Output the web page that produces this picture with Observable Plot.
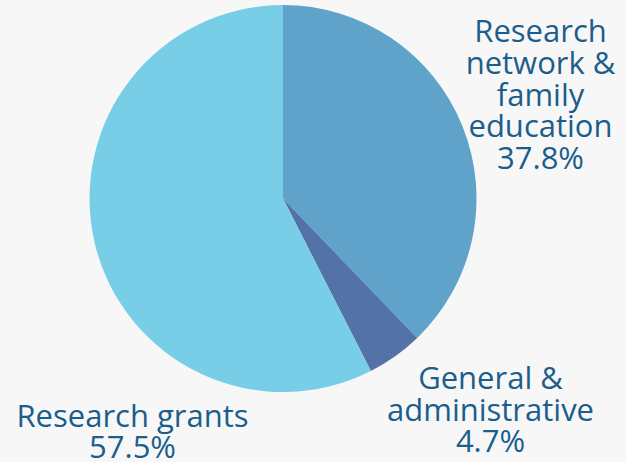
<!DOCTYPE html>
<html>
<head>
<meta charset="utf-8">
<script src="https://cdn.jsdelivr.net/npm/d3@7"></script>
<script src="https://cdn.jsdelivr.net/npm/@observablehq/plot@0.6"></script>
<style>
  html, body { margin: 0; padding: 0; background: #f7f7f7; }
  #chart { width: 626px; height: 462px; overflow: hidden; }
</style>
</head>
<body>
<div id="chart"></div>
<script>
// Data
const categories = ["Research network & family education", "General & administrative", "Research grants"];
const shares = [37.8, 4.7, 57.5];
const labelLines = [
  ["Research", "network &", "family", "education"],
  ["General &", "administrative"],
  ["Research grants"]
];

// Styling / layout (not data)
const colors = ["#5fa3cb", "#5373a8", "#79cee7"];
const W = 626, H = 462;
const center = [283, 198.5];
const radius = 193.5;
const fontSize = 31;
const lineHeightPx = 31.6;
const labelPos = [[540, 95], [490, 410], [132, 432]];

const rows = categories.map((c, i) => ({category: c, share: shares[i]}));
const labelRows = rows.map((r, i) => ({
  text: labelLines[i].join("\n") + "\n" + r.share.toFixed(1) + "%",
  x: labelPos[i][0], y: labelPos[i][1]
}));

const pieMark = (index, scales, values, dims) => {
  const pie = d3.pie().sort(null).value(d => d.share);
  const arc = d3.arc().innerRadius(0).outerRadius(radius);
  const color = scales.color;
  const g = d3.create("svg:g")
    .attr("transform", `translate(${scales.x(center[0])},${scales.y(center[1])})`);
  g.selectAll("path")
    .data(pie(rows))
    .join("path")
    .attr("d", arc)
    .attr("fill", d => color(d.data.category));
  return g.node();
};

const chart = Plot.plot({
  width: W,
  height: H,
  margin: 0,
  style: {background: "#f7f7f7", fontFamily: "'Open Sans', sans-serif"},
  x: {type: "identity", axis: null},
  y: {type: "identity", axis: null},
  color: {domain: categories, range: colors},
  marks: [
    pieMark,
    Plot.text(labelRows, {
      x: "x", y: "y", text: "text",
      fontSize, lineHeight: lineHeightPx / fontSize,
      textAnchor: "middle", lineAnchor: "middle",
      fill: "#1b5e8c"
    })
  ]
});
document.getElementById("chart").append(chart);
</script>
</body>
</html>
